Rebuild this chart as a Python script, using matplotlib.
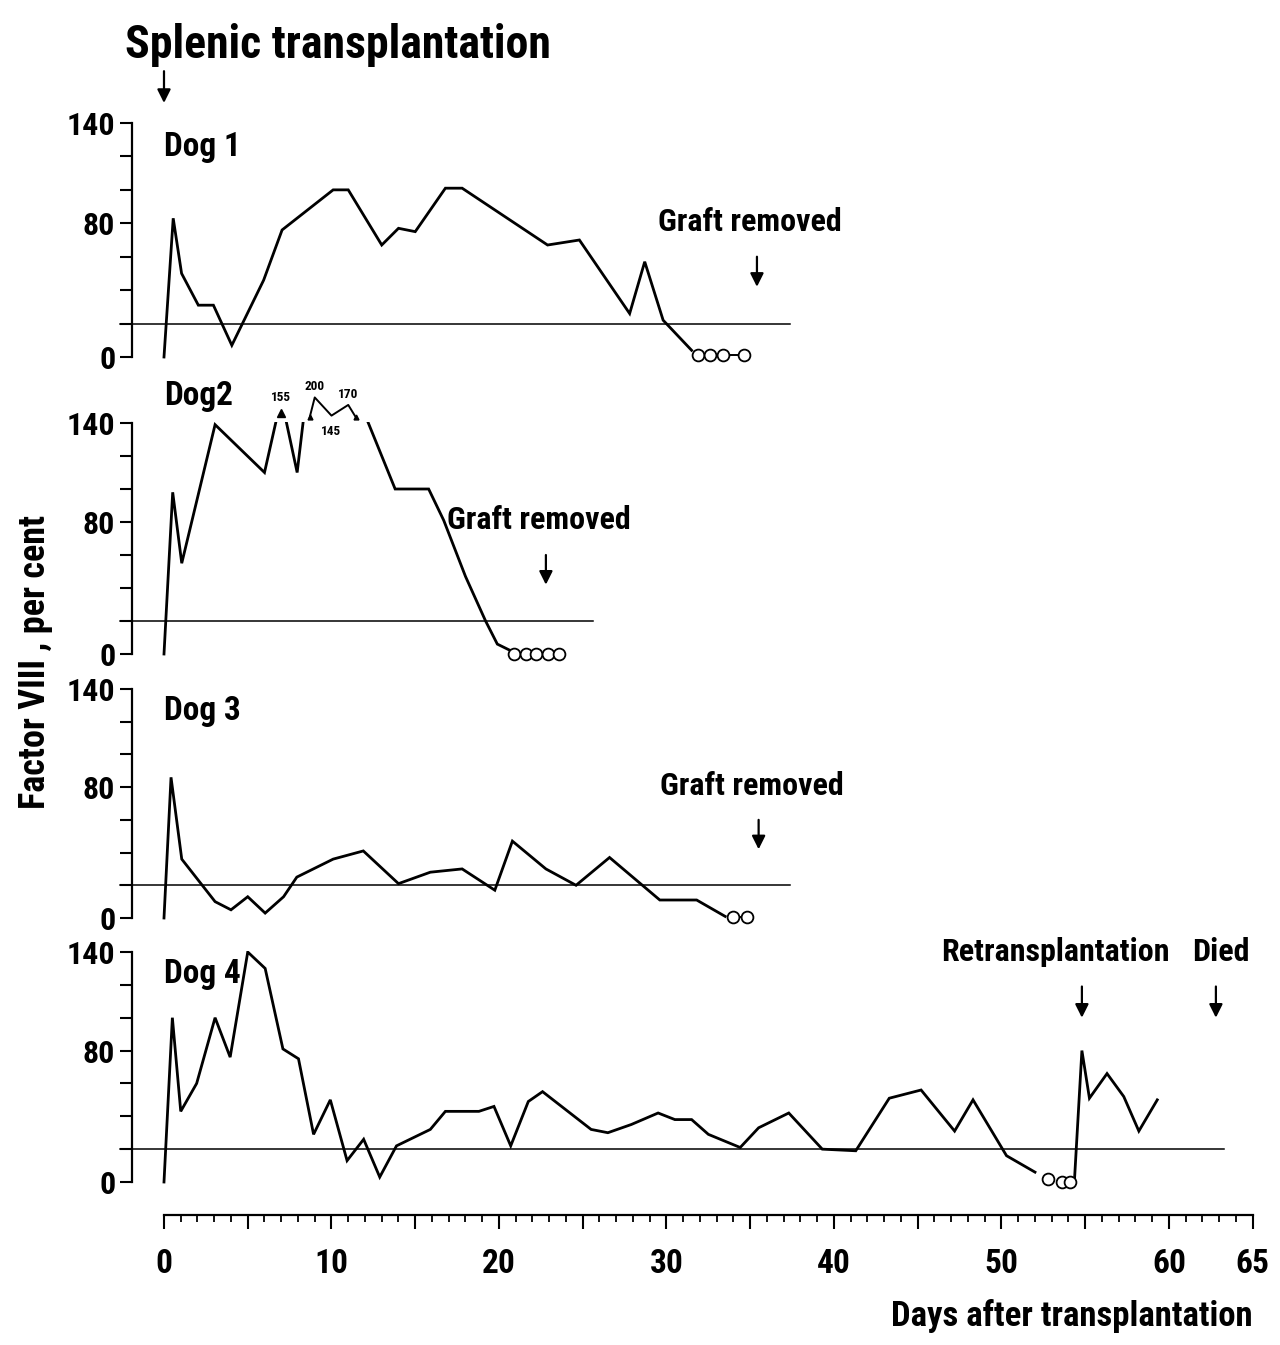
import numpy as np
import matplotlib
matplotlib.use("Agg")
import matplotlib.pyplot as plt
from matplotlib import font_manager as fm
from matplotlib.patches import Rectangle
from matplotlib.ticker import FixedLocator, FixedFormatter

# ---------------- data ----------------
threshold = 20
y_ticks = [0, 20, 40, 60, 80, 100, 120, 140]
y_ticklabels = ["0", "", "", "", "80", "", "", "140"]
x_major = [0, 5, 10, 15, 20, 25, 30, 35, 40, 45, 50, 55, 60, 65]
x_labels = ["0", "", "10", "", "20", "", "30", "", "40", "", "50", "", "60", "65"]
x_minor = list(range(0, 66))

dog_names = ["Dog 1", "Dog2", "Dog 3", "Dog 4"]

days1 = [0, 0.55, 1.05, 2.05, 2.95, 4.05, 5.95, 7.05, 10.1, 11.0, 13.0, 14.0, 15.0,
         16.8, 17.8, 22.9, 24.8, 27.8, 28.7, 29.8, 31.5]
vals1 = [0, 83, 50, 31, 31, 7, 46, 76, 100, 100, 67, 77, 75,
         101, 101, 67, 70, 26, 57, 22, 4]
circ_days1 = [31.9, 32.6, 33.4, 34.6]
circ_vals1 = [1, 1, 1, 1]

days2 = [0, 0.52, 1.06, 3.05, 6.0, 7.0, 7.95, 9.0, 10.0, 11.0, 13.8, 15.8, 16.7,
         18.0, 19.2, 19.9, 20.7]
vals2 = [0, 98, 55, 139, 110, 155, 110, 200, 145, 170, 100, 100, 81,
         47, 20, 6, 2]
circ_days2 = [20.9, 21.6, 22.2, 22.9, 23.6]
circ_vals2 = [0, 0, 0, 0, 0]

days3 = [0, 0.42, 1.06, 3.05, 4.0, 5.0, 6.04, 7.14, 7.93, 10.1, 11.9, 14.0, 15.9,
         17.8, 19.75, 20.8, 22.8, 24.6, 26.6, 29.6, 31.8, 33.5]
vals3 = [0, 86, 36, 10, 5, 13, 3, 13, 25, 36, 41, 21, 28,
         30, 17, 47, 30, 20, 37, 11, 11, 1]
circ_days3 = [34.0, 34.8]
circ_vals3 = [0.5, 0.5]

days4 = [0, 0.5, 1.0, 1.95, 3.05, 3.95, 5.0, 6.04, 7.1, 8.03, 8.93, 9.93, 10.93,
         11.92, 12.88, 13.88, 15.9, 16.8, 18.8, 19.7, 20.7, 21.75, 22.6, 25.5, 26.5,
         27.9, 29.5, 30.5, 31.5, 32.5, 34.4, 35.5, 37.3, 39.3, 41.3, 43.3, 45.2,
         47.2, 48.3, 50.3, 52.0]
vals4 = [0, 100, 43, 60, 100, 76, 140, 130, 81, 75, 29, 50, 13,
         26, 3, 22, 32, 43, 43, 46, 22, 49, 55, 32, 30,
         35, 42, 38, 38, 29, 21, 33, 42, 20, 19, 51, 56,
         31, 50, 16, 6]
circ_days4 = [52.8, 53.6, 54.1]
circ_vals4 = [2, 0, 0]
days4b = [54.35, 54.8, 55.25, 56.3, 57.3, 58.2, 59.3]
vals4b = [0, 80, 51, 66, 52, 31, 50]

threshold_end = [37.4, 25.6, 37.4, 63.3]
graft_removed_day = [35.4, 22.8, 35.5]
retransplant_day = 54.8
died_day = 62.8

# ---------------- fonts ----------------
names = {f.name for f in fm.fontManager.ttflist}
FONT = "DejaVu Sans"
for cand in ["Liberation Sans Narrow", "Roboto Condensed", "Open Sans Condensed"]:
    if cand in names:
        FONT = cand
        break
plt.rcParams["font.family"] = [FONT, "DejaVu Sans"]
plt.rcParams["font.stretch"] = "condensed"
plt.rcParams["font.weight"] = "bold"

# ---------------- layout ----------------
W_PX, H_PX = 1280, 1345
fig = plt.figure(figsize=(W_PX / 100, H_PX / 100), dpi=100)
L = 132 / W_PX
WID = 1137.5 / W_PX
XLIM = (-1.91, 66)
panels_px = [(123, 357), (423, 654), (689, 918), (952, 1182)]

LW = 2.0
ARROW = dict(arrowstyle="-|>", color="k", lw=1.6, mutation_scale=20,
             shrinkA=0, shrinkB=0)


def squash(v):
    return 140 + 2.0 * np.sqrt(v - 140)


def setup(ax):
    ax.set_xlim(*XLIM)
    ax.set_ylim(0, 140)
    for s in ["top", "right", "bottom"]:
        ax.spines[s].set_visible(False)
    ax.spines["left"].set_linewidth(1.6)
    ax.set_xticks([])
    ax.yaxis.set_major_locator(FixedLocator(y_ticks))
    ax.yaxis.set_major_formatter(FixedFormatter(y_ticklabels))
    ax.tick_params(axis="y", direction="out", length=9, width=1.5,
                   labelsize=23, pad=3)
    ax.patch.set_alpha(0)


def main_line(ax, d, v):
    ln, = ax.plot(d, v, color="k", lw=LW, solid_joinstyle="miter", zorder=3)
    ln.set_clip_path(Rectangle((-10, -20), 100, 160.6, transform=ax.transData))
    return ln


def circles(ax, d, v, connect=True):
    ax.plot(d, v, "-o" if connect else "o", color="k", mfc="white", mec="k",
            ms=8.5, mew=1.3, lw=1.4, clip_on=False, zorder=4)


def thresh(ax, end):
    ax.plot([-2.6, end], [threshold, threshold], color="k", lw=1.1,
            clip_on=False, zorder=2)


all_days = [days1, days2, days3, days4]
all_vals = [vals1, vals2, vals3, vals4]
all_cd = [circ_days1, circ_days2, circ_days3, circ_days4]
all_cv = [circ_vals1, circ_vals2, circ_vals3, circ_vals4]
label_y = [120, 151, 121, 121]

axes = []
for i, (top, bot) in enumerate(panels_px):
    ax = fig.add_axes([L, 1 - bot / H_PX, WID, (bot - top) / H_PX])
    setup(ax)
    thresh(ax, threshold_end[i])
    main_line(ax, all_days[i], all_vals[i])
    circles(ax, all_cd[i], all_cv[i], connect=(i != 3))
    ax.text(0, label_y[i], dog_names[i], fontsize=24, ha="left", va="baseline")
    axes.append(ax)

# Dog 2: values above the scale (broken top)
ax2 = axes[1]
d2 = np.array(days2, float)
v2 = np.array(vals2, float)
above = v2 > 140
runs = []
cur = []
for k in range(len(v2)):
    if above[k]:
        cur.append(k)
    elif cur:
        runs.append(cur)
        cur = []
if cur:
    runs.append(cur)
for run in runs:
    xs = d2[run]
    ys = squash(v2[run])
    if len(run) == 1:
        ax2.plot(xs, ys - 1.5, marker="^", ms=6, color="k", ls="none", clip_on=False)
        ax2.text(xs[0], ys[0] + 3.5, f"{int(v2[run[0]])}", fontsize=9.5,
                 ha="center", va="bottom")
    else:
        px = np.concatenate([[xs[0] - 0.3], xs, [xs[-1] + 0.45]])
        py = np.concatenate([[143.5], ys, [143.5]])
        ax2.plot(px, py, color="k", lw=1.4, clip_on=False)
        ax2.plot([px[0], px[-1]], [143.5, 143.5], marker="^", ms=3.5, color="k",
                 ls="none", clip_on=False)
        for j, k in enumerate(run):
            is_min = 0 < j < len(run) - 1 and v2[k] < v2[run[j - 1]] and v2[k] < v2[run[j + 1]]
            if is_min:
                ax2.text(xs[j], 139, f"{int(v2[k])}", fontsize=9.5, ha="center", va="top")
            else:
                ax2.text(xs[j], ys[j] + 2.5, f"{int(v2[k])}", fontsize=9.5,
                         ha="center", va="bottom")

# Dog 4 retransplantation segment
main_line(axes[3], days4b, vals4b)

# ---------------- annotations ----------------
fig.text(125 / W_PX, 1 - 45 / H_PX, "Splenic transplantation", fontsize=33,
         ha="left", va="center")
axes[0].annotate("", xy=(0, 152), xytext=(0, 171), arrowprops=ARROW,
                 annotation_clip=False)

for i, gd in enumerate(graft_removed_day):
    ax = axes[i]
    ax.annotate("", xy=(gd, 42), xytext=(gd, 60), arrowprops=ARROW,
                annotation_clip=False)
    ax.text(gd - 0.4, 81, "Graft removed", fontsize=23, ha="center", va="center")

ax4 = axes[3]
ax4.annotate("", xy=(retransplant_day, 100), xytext=(retransplant_day, 119),
             arrowprops=ARROW, annotation_clip=False)
ax4.annotate("", xy=(died_day, 100), xytext=(died_day, 119),
             arrowprops=ARROW, annotation_clip=False)
ax4.text(53.2, 140, "Retransplantation", fontsize=23, ha="center", va="center")
ax4.text(63.1, 140, "Died", fontsize=23, ha="center", va="center")

# y label
fig.text(35 / W_PX, 1 - 662 / H_PX, "Factor VIII , per cent", fontsize=26,
         rotation=90, ha="center", va="center")

# ---------------- bottom x axis ----------------
axb = fig.add_axes([L, 1 - 1215 / H_PX, WID, 0.0001])
axb.set_xlim(*XLIM)
for s in ["top", "right", "left"]:
    axb.spines[s].set_visible(False)
axb.spines["bottom"].set_bounds(0, 65)
axb.spines["bottom"].set_linewidth(1.6)
axb.set_yticks([])
axb.xaxis.set_major_locator(FixedLocator(x_major))
axb.xaxis.set_major_formatter(FixedFormatter(x_labels))
axb.xaxis.set_minor_locator(FixedLocator(x_minor))
axb.tick_params(axis="x", which="major", direction="out", length=10, width=1.5,
                labelsize=24, pad=14)
axb.tick_params(axis="x", which="minor", direction="out", length=5, width=1.3)
axb.patch.set_alpha(0)

fig.text(1253 / W_PX, 1 - 1316 / H_PX, "Days after transplantation", fontsize=25,
         ha="right", va="center")

fig.savefig("out.png", dpi=100, facecolor="white")
